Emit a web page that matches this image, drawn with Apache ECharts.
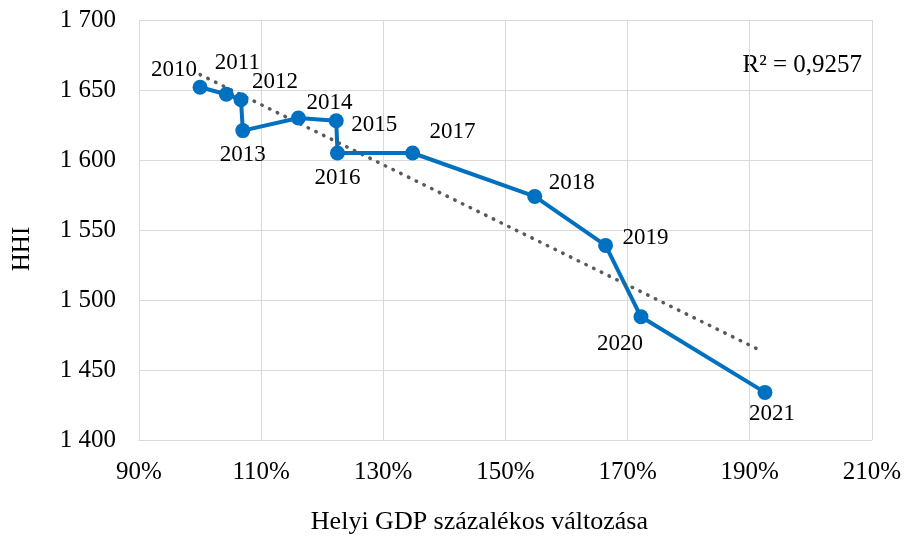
<!DOCTYPE html>
<html>
<head>
<meta charset="utf-8">
<script src="https://cdn.jsdelivr.net/npm/echarts@6/dist/echarts.min.js"></script>
<style>
  html, body { margin: 0; padding: 0; background: #fff; }
  #chart { width: 904px; height: 540px; }
</style>
</head>
<body>
<div id="chart"></div>
<script>
    // years, GDP change (%), HHI
    var years = ['2010', '2011', '2012', '2013', '2014', '2015', '2016', '2017', '2018', '2019', '2020', '2021']
    var gdpChange = [100.0, 104.3, 106.7, 107.0, 116.1, 122.3, 122.5, 134.8, 154.8, 166.4, 172.2, 192.5]
    var hhi = [1652, 1647, 1643, 1621, 1630, 1628, 1605, 1605, 1574, 1539, 1488, 1434]

    // trend line end points
    var trendX = [100.0, 192.2]
    var trendY = [1661, 1463]
    var rSquared = 'R² = 0,9257'

    // label offsets from each point (label centre)
    var labelOffsets = [
        [-26, -17], [11, -31], [34, -18], [0, 24], [31, -15], [38, 4],
        [0, 25], [40, -21], [37, -13], [40, -7], [-21, 27], [7, 22]
    ]

    var font = 'Liberation Serif'
    var chart = echarts.init(document.getElementById('chart'))

    var points = gdpChange.map(function (x, i) {
        return {
            value: [x, hhi[i]],
            label: {offset: labelOffsets[i]}
        }
    })

    chart.setOption({
        animation: false,
        grid: {
            left: 139,
            right: 30,
            top: 20,
            bottom: 98
        },
        xAxis: {
            type: 'value',
            min: 90,
            max: 210,
            interval: 20,
            name: 'Helyi GDP százalékos változása',
            nameLocation: 'middle',
            nameGap: 69,
            nameTextStyle: {fontFamily: font, fontSize: 26, color: '#000', padding: [0, 52, 0, 0]},
            axisLine: {show: true, lineStyle: {color: '#d9d9d9', width: 1}},
            axisTick: {show: false},
            splitLine: {show: true, lineStyle: {color: '#d9d9d9', width: 1}},
            axisLabel: {
                fontFamily: font,
                fontSize: 25,
                color: '#000',
                margin: 20,
                formatter: function (v) {
                    return v + '%'
                }
            }
        },
        yAxis: {
            type: 'value',
            min: 1400,
            max: 1700,
            interval: 50,
            name: 'HHI',
            nameLocation: 'middle',
            nameGap: 104,
            nameRotate: 90,
            nameTextStyle: {fontFamily: font, fontSize: 25, color: '#000', padding: [0, 38, 0, 0]},
            axisLine: {show: true, lineStyle: {color: '#d9d9d9', width: 1}},
            axisTick: {show: false},
            splitLine: {show: true, lineStyle: {color: '#d9d9d9', width: 1}},
            axisLabel: {
                fontFamily: font,
                fontSize: 25,
                color: '#000',
                margin: 23,
                formatter: function (v) {
                    var s = String(v)
                    return s.slice(0, s.length - 3) + ' ' + s.slice(s.length - 3)
                }
            }
        },
        graphic: [{
            type: 'text',
            right: 42,
            top: 53,
            style: {
                text: rSquared,
                fontFamily: font,
                fontSize: 25,
                fill: '#000'
            }
        }],
        series: [
            {
                type: 'line',
                data: points,
                symbol: 'circle',
                symbolSize: 15,
                itemStyle: {color: '#0070c0'},
                lineStyle: {color: '#0070c0', width: 4},
                label: {
                    show: true,
                    position: 'inside',
                    align: 'center',
                    verticalAlign: 'middle',
                    fontFamily: font,
                    fontSize: 23,
                    color: '#000',
                    formatter: function (p) {
                        return years[p.dataIndex]
                    }
                }
            },
            {
                type: 'line',
                data: trendX.map(function (x, i) {
                    return [x, trendY[i]]
                }),
                symbol: 'none',
                silent: true,
                z: 3,
                lineStyle: {
                    color: '#595959',
                    width: 3.5,
                    type: [0.5, 8.1],
                    cap: 'round'
                }
            }
        ]
    })
</script>
</body>
</html>
